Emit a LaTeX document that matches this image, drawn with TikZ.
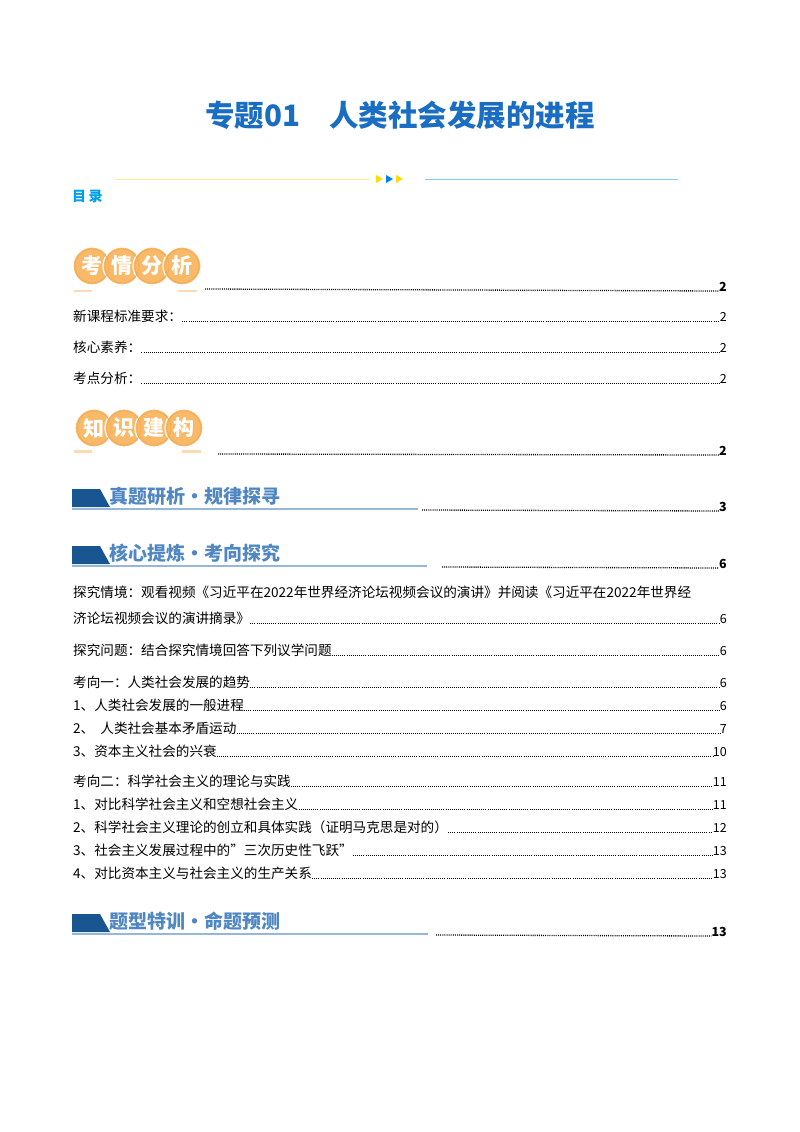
\documentclass[tikz,border=0pt]{standalone}
\usepackage{fontspec}
\setmainfont{Noto Sans CJK SC}
\definecolor{bor}{RGB}{245,170,85}
\definecolor{bfill}{RGB}{248,185,105}
\definecolor{bandark}{RGB}{25,85,145}
\definecolor{bantext}{RGB}{80,135,195}
\begin{document}
\begin{tikzpicture}[x=1pt,y=-1pt,
  txt/.style={anchor=base west,inner sep=0,font=\fontsize{13.6}{15}\selectfont},
  num/.style={anchor=base east,inner sep=0,font=\fontsize{12.5}{14}\selectfont},
  bnum/.style={anchor=base east,inner sep=0,font=\fontsize{12.5}{14}\selectfont\bfseries},
  lead/.style={line width=1.3pt,dash pattern=on 1pt off 1.1pt,black},
  badge/.style={circle,fill=bfill,draw=white,line width=1.2pt,minimum size=38pt,inner sep=0,text=white,font=\fontsize{21}{21}\selectfont\bfseries},
  bantxt/.style={anchor=base west,inner sep=0,text=bantext,font=\fontsize{19}{20}\selectfont\bfseries}]
\useasboundingbox (0,0) rectangle (800,1132);
\fill[white] (0,0) rectangle (800,1132);
\node[anchor=base,inner sep=0,text={rgb,255:red,25;green,110;blue,195},font=\fontsize{29.5}{30}\selectfont\bfseries] (title) at (400,126) {专题01\quad 人类社会发展的进程};
\draw[yellow!70!orange!40,line width=1pt] (115,179) -- (370,179);
\foreach \x/\c in {376/yellow!80!orange,386/blue!50!cyan,396/yellow!80!orange}
  \fill[\c] (\x,175) -- (\x+7,179) -- (\x,183) -- cycle;
\draw[blue!40!cyan!50,line width=1pt] (425,179) -- (678,179);
\node[anchor=base west,inner sep=0,text={rgb,255:red,0;green,160;blue,230},font=\fontsize{14}{15}\selectfont\bfseries] (ml) at (72,201) {目\,录};
\foreach \t [count=\i] in {考,情,分,析}
  \node[badge] (ba\i) at (62+\i*30,266) {\t};
\foreach \i in {1,...,4} \draw[bor,line width=0.8pt] (ba\i) circle (17pt);
\fill[orange!30] (74,290) rectangle (92,292);\fill[orange!30] (178,290) rectangle (197,292);
\node[bnum] (n1) at (727,291) {2};
\draw[lead] (205,289) -- (n1.base west);
\newcommand\entry[4]{\node[txt] (e#1) at (73,#2) {#3};\node[num] (n#1) at (727,#2) {#4};\draw[lead,line width=0.7pt] (e#1.base east) -- (n#1.base west);}
\entry{a}{321}{新课程标准要求：}{2}
\entry{b}{352}{核心素养：}{2}
\entry{c}{383}{考点分析：}{2}
\foreach \t [count=\i] in {知,识,建,构}
  \node[badge] (bb\i) at (64+\i*30,428) {\t};
\foreach \i in {1,...,4} \draw[bor,line width=0.8pt] (bb\i) circle (17pt);
\fill[orange!30] (74,450) rectangle (92,453);\fill[orange!30] (182,450) rectangle (201,453);
\node[bnum] (n2) at (727,455) {2};
\draw[lead] (218,454) -- (n2.base west);
\newcommand\banner[6]{%
  \fill[bandark] (72,#2-14) -- (100,#2-14) -- (110,#2+4) -- (72,#2+4) -- cycle;
  \node[bantxt] (bt#1) at (109,#2) {#3};
  \draw[bantext!60,line width=1.2pt] (72,#2+6) -- (#4,#2+6);
  \node[bnum] (bn#1) at (727,#2+8) {#6};
  \draw[lead] (#5,#2+7) -- (bn#1.base west);}
\banner{a}{503}{真题研析·规律探寻}{418}{422}{3}
\banner{b}{560}{核心提炼·考向探究}{427}{442}{6}
\node[txt] (q1) at (73,597) {探究情境：观看视频《习近平在2022年世界经济论坛视频会议的演讲》并阅读《习近平在2022年世界经};
\entry{d}{623}{济论坛视频会议的演讲摘录》}{6}
\entry{e}{655}{探究问题：结合探究情境回答下列议学问题}{6}
\entry{f}{687}{考向一：人类社会发展的趋势}{6}
\entry{g}{710}{1、人类社会发展的一般进程}{6}
\entry{h}{733}{2、\ \ 人类社会基本矛盾运动}{7}
\entry{i}{756}{3、资本主义社会的兴衰}{10}
\entry{j}{786}{考向二：科学社会主义的理论与实践}{11}
\entry{k}{809}{1、对比科学社会主义和空想社会主义}{11}
\entry{l}{832}{2、科学社会主义理论的创立和具体实践（证明马克思是对的）}{12}
\entry{m}{855}{3、社会主义发展过程中的”三次历史性飞跃"}{13}
\entry{n}{878}{4、对比资本主义与社会主义的生产关系}{13}
\banner{c}{928}{题型特训·命题预测}{428}{436}{13}
\end{tikzpicture}
\end{document}
